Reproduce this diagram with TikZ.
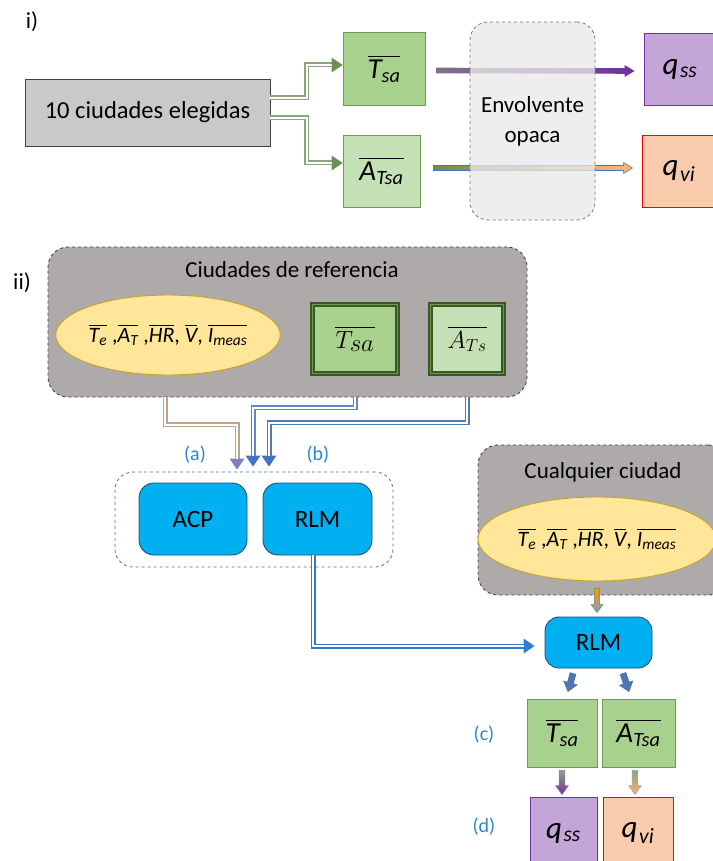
\documentclass[tikz,border=0pt]{standalone}
\usepackage{amsmath}
\usepackage{fontspec}
\setmainfont{Carlito}
\usetikzlibrary{calc,arrows.meta,shapes.geometric}
\definecolor{cgray}{HTML}{C9C9C9}
\definecolor{cgreen}{HTML}{A9D18E}
\definecolor{cgreenl}{HTML}{C5E0B4}
\definecolor{cgreend}{HTML}{6E9A50}
\definecolor{cgreendd}{HTML}{385723}
\definecolor{cpurple}{HTML}{C4A5D8}
\definecolor{cpurpled}{HTML}{7030A0}
\definecolor{corange}{HTML}{F8CBAD}
\definecolor{cenv}{HTML}{E9E9E9}
\definecolor{cbig}{HTML}{AEAAAA}
\definecolor{cyel}{HTML}{FFE699}
\definecolor{cyeld}{HTML}{C9A227}
\definecolor{ccyan}{HTML}{00B0F0}
\definecolor{cnavy}{HTML}{1F4E79}
\definecolor{clab}{HTML}{2E86D0}
\definecolor{ccont}{HTML}{4A6FA5}
\definecolor{cblue}{HTML}{4472C4}
\definecolor{ctan}{HTML}{C0A488}
\definecolor{clav}{HTML}{7F7FBF}
\definecolor{cgline}{HTML}{8CA57A}
\definecolor{cghead}{HTML}{6B8F50}
\definecolor{cbline}{HTML}{2E7BD0}
% double-line connector: #1 line colour, #2 head colour, #3 path
\newcommand{\dblcon}[3]{%
  \draw[line width=5pt, #1, -{Triangle[length=11pt,width=15pt,color=#2,line width=0pt]}] #3;
  \draw[line width=2pt, white, shorten >=11pt] #3;}
% fat block arrow: #1 start, #2 end, #3 shaft half width, #4 head half width, #5 head length, #6 style
\newcommand{\fatarr}[6]{%
  \coordinate (fah) at ($(#2)!#5!(#1)$);
  \path[#6] ($(#1)!#3!90:(#2)$) -- ($(fah)!#3!-90:(#1)$) -- ($(fah)!#4!-90:(#1)$) -- (#2)
    -- ($(fah)!#4!90:(#1)$) -- ($(fah)!#3!90:(#1)$) -- ($(#1)!#3!-90:(#2)$) -- cycle;}
\newcommand{\ovl}[2]{$\overline{\text{\itshape #1}_{\text{\itshape #2}}}$}
\newcommand{\ovs}[1]{$\overline{\text{\itshape #1}}$}
\newcommand{\qsub}[1]{\textit{q}\kern1.5pt\textsubscript{\textit{#1}}}
\begin{document}
\begin{tikzpicture}[x=1pt,y=-1pt,
  lbl/.style={font=\fontsize{23}{27}\selectfont},
  mlbl/.style={font=\fontsize{31}{33}\selectfont},
  ablbl/.style={font=\fontsize{20}{24}\selectfont, text=clab},
  gbox/.style={draw=cgreend, line width=0.8pt, fill=cgreen, font=\fontsize{29}{32}\selectfont},
  rbox/.style={draw=cnavy, line width=0.9pt, fill=ccyan, rounded corners=15pt, font=\fontsize{25}{29}\selectfont},
  dashbox/.style={draw=black!75, dashed, line width=0.9pt, fill=cbig, rounded corners=20pt},
  elltext/.style={font=\fontsize{22}{26}\selectfont}]
\useasboundingbox (0,0) rectangle (712,861);

% ---------------- part i ----------------
\node[lbl] (ilab) at (32,22) {i)};
\node[draw=black!75, line width=0.9pt, fill=cgray, minimum width=245pt, minimum height=67pt,
  font=\fontsize{24.5}{28}\selectfont] (cities) at (147.5,112.5) {10 ciudades elegidas};
\node[gbox, minimum width=82pt, minimum height=73pt] (tsa1) at (384,68.5) {\ovl{T}{sa}};
\node[gbox, fill=cgreenl, minimum width=77pt, minimum height=72pt] (atsa1) at (381.5,171) {\ovl{A}{Tsa}};
\node[draw=cpurpled, line width=0.9pt, fill=cpurple, minimum width=72pt, minimum height=72pt, mlbl]
  (qss1) at (680,69) {\qsub{ss}};
\node[draw=red, line width=0.9pt, fill=corange, minimum width=74pt, minimum height=72pt, mlbl]
  (qvi1) at (679,171) {\qsub{vi}};

\dblcon{cgline}{cghead}{($(cities.east)+(0,-14.5)$) -| ($(tsa1.west)+(-36,-3.5)$) -- ($(tsa1.west)+(0,-3.5)$)}
\dblcon{cgline}{cghead}{($(cities.east)+(0,5.5)$) -| ($(atsa1.west)+(-36,-8)$) -- ($(atsa1.west)+(0,-8)$)}

\coordinate (ua) at ($(tsa1.east)+(11,2)$);
\coordinate (ub) at ($(qss1.west)+(-9,2)$);
\fatarr{ua}{ub}{2.8pt}{6pt}{10pt}{left color=cpurpled!45!cgline, right color=cpurpled}
\coordinate (la) at ($(atsa1.east)+(13,-3)$);
\coordinate (lb) at ($(qvi1.west)+(-9,-3)$);
\fatarr{la}{lb}{2.5pt}{5.5pt}{9pt}{draw=cblue, line width=0.6pt, left color=cghead, right color=orange!55}

\node[draw=black!55, dashed, line width=0.8pt, fill=cenv, fill opacity=0.78, text opacity=1,
  rounded corners=18pt, minimum width=125pt, minimum height=198pt, lbl, align=center]
  (env) at (532.5,121) {Envolvente\\[3pt]opaca};

% ---------------- part ii ----------------
\node[lbl] (iilab) at (22,283) {ii)};
\node[dashbox, minimum width=479pt, minimum height=150pt] (big) at (287.5,322) {};
\node[lbl] (bigt) at (292,270) {Ciudades de referencia};
\node[ellipse, draw=cyeld, line width=0.9pt, fill=cyel, minimum width=212pt, minimum height=80pt,
  inner sep=0pt, elltext] (ell1) at (168,335)
  {\ovl{T}{e} ,\ovl{A}{T} ,\ovs{HR}, \ovs{V}, \ovl{I}{meas}};
\node[draw=cgreendd, line width=1.4pt, double=cgreend, double distance=1.6pt, fill=cgreen,
  minimum width=85pt, minimum height=69pt, font=\fontsize{33}{35}\selectfont] (tsa2) at (355,339) {$\overline{T_{sa}}$};
\node[draw=cgreendd, line width=1.4pt, double=cgreend, double distance=1.6pt, fill=cgreenl,
  minimum width=73pt, minimum height=69pt, font=\fontsize{26}{30}\selectfont] (ats2) at (467,339) {$\overline{A_{Ts}}$};

\node[draw=ccont, dashed, line width=0.8pt, rounded corners=18pt, minimum width=278pt, minimum height=95pt]
  (cont) at (254,519.5) {};
\node[rbox, minimum width=108pt, minimum height=72pt] (acp) at (193,519) {ACP};
\node[rbox, minimum width=109pt, minimum height=72pt] (rlm) at (317.5,519) {RLM};
\node[ablbl] (la1) at (195,455) {(a)};
\node[ablbl] (lb1) at (318,455) {(b)};

\dblcon{ctan}{clav}{($(big.south)+(-122.5,0)$) |- ($(cont.north)+(-17,-47)$) -- ($(cont.north)+(-17,-2)$)}
\dblcon{cblue!85}{cblue}{(tsa2.south |- big.south) |- ($(cont.north)+(-1,-64)$) -- ($(cont.north)+(-1,-5)$)}
\dblcon{cblue!75!cgreend}{cblue}{(ats2.south |- big.south) |- ($(cont.north)+(15,-49)$) -- ($(cont.north)+(15,-5)$)}

% right column
\node[dashbox, minimum width=250pt, minimum height=150pt] (cualq) at (603,520) {};
\node[lbl] (cualqt) at (603,472) {Cualquier ciudad};
\node[ellipse, draw=cyeld, line width=0.9pt, fill=cyel, minimum width=238pt, minimum height=84pt,
  inner sep=0pt, elltext] (ell2) at (597,539)
  {\ovl{T}{e} ,\ovl{A}{T} ,\ovs{HR}, \ovs{V}, \ovl{I}{meas}};
\node[rbox, rounded corners=14pt, minimum width=107pt, minimum height=51pt] (rlm2) at (598.5,642.5) {RLM};

\dblcon{cbline}{cbline}{($(rlm.south)+(-4.5,0)$) |- ($(rlm2.west)+(-10,3.5)$)}

\coordinate (ca) at ($(cualq.south)+(-6,-7)$);
\coordinate (cb) at ($(rlm2.north)+(-1.5,-4)$);
\fatarr{ca}{cb}{2.6pt}{6pt}{8pt}{draw=cghead, line width=0.5pt, top color=orange!80!yellow, bottom color=cblue!70}

\node[gbox, minimum width=70pt, minimum height=68pt] (tsa3) at (562,733) {\ovl{T}{sa}};
\node[gbox, minimum width=73pt, minimum height=68pt] (atsa3) at (638.5,733) {\ovl{A}{Tsa}};
\node[ablbl] (lc) at (484,735) {(c)};
\node[ablbl] (ld) at (484,827) {(d)};
\node[draw=cpurpled, line width=0.9pt, fill=cpurple, minimum width=67pt, minimum height=72pt, mlbl]
  (qss3) at (563.5,833) {\qsub{ss}};
\node[draw=red, line width=0.9pt, fill=corange, minimum width=70pt, minimum height=72pt, mlbl]
  (qvi3) at (638,833) {\qsub{vi}};

\coordinate (r1a) at ($(rlm2.south)+(-25.5,5)$);
\coordinate (r1b) at ($(tsa3.north)+(6,-7)$);
\fatarr{r1a}{r1b}{3pt}{7pt}{9pt}{draw=cnavy!80, line width=0.5pt, fill=cblue!80!gray}
\coordinate (r2a) at ($(rlm2.south)+(24.5,5)$);
\coordinate (r2b) at ($(atsa3.north)+(-9.5,-7)$);
\fatarr{r2a}{r2b}{3pt}{7pt}{9pt}{draw=cnavy!80, line width=0.5pt, fill=cblue!80!gray}
\coordinate (t1a) at ($(tsa3.south)+(0,3)$);
\coordinate (t1b) at ($(qss3.north)+(-1.5,-2)$);
\fatarr{t1a}{t1b}{2.8pt}{6.5pt}{9pt}{draw=cpurpled!70, line width=0.5pt, top color=cgline, bottom color=cpurpled}
\coordinate (t2a) at ($(atsa3.south)+(-3.5,3)$);
\coordinate (t2b) at ($(qvi3.north)+(-3,-2)$);
\fatarr{t2a}{t2b}{2.8pt}{6.5pt}{9pt}{draw=cblue!60, line width=0.5pt, top color=cgline, bottom color=orange!60}
\end{tikzpicture}
\end{document}
